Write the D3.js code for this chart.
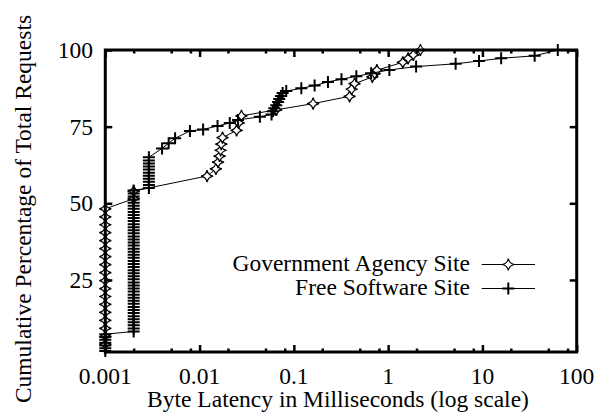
<!DOCTYPE html>
<html>
<head>
<meta charset="utf-8">
<script src="https://cdn.jsdelivr.net/npm/d3@7"></script>
<style>
  html, body { margin: 0; padding: 0; background: #fff; }
  svg { display: block; }
  text { font-family: "Liberation Serif", "Times New Roman", serif; fill: #000; }
</style>
</head>
<body>
<svg id="chart" width="603" height="415"></svg>
<script>
// ---- data (latency in ms, cumulative % of requests) ----
const seriesNames = ["Government Agency Site", "Free Software Site"];

const govSite = [
  [0.001, 4.0], [0.001, 6.6], [0.001, 9.2], [0.001, 11.8], [0.001, 14.4], [0.001, 17.0],
  [0.001, 19.6], [0.001, 22.2], [0.001, 24.8], [0.001, 27.4], [0.001, 30.0], [0.001, 32.6],
  [0.001, 35.2], [0.001, 37.8], [0.001, 40.4], [0.001, 43.0], [0.001, 45.6], [0.001, 48.2],
  [0.002, 51.5], [0.002, 54.0],
  [0.012, 58.9], [0.0149, 61.2], [0.0157, 63.4], [0.0163, 65.4], [0.0167, 67.3],
  [0.0170, 69.3], [0.0175, 71.4], [0.0247, 73.8], [0.026, 76.2], [0.0278, 78.5],
  [0.065, 80.5], [0.16, 82.5], [0.39, 84.9], [0.41, 87.2], [0.44, 89.0],
  [0.68, 91.2], [0.72, 92.3], [0.76, 93.4], [1.43, 96.0], [1.63, 97.3], [1.85, 98.4], [2.2, 100]
];

const freeSite = [
  [0.001, 1.8], [0.001, 2.7], [0.001, 3.6], [0.001, 4.5], [0.001, 5.5], [0.001, 6.4], [0.001, 7.3],
  [0.002, 8.2], [0.002, 9.2], [0.002, 10.2], [0.002, 11.2], [0.002, 12.2], [0.002, 13.2],
  [0.002, 14.2], [0.002, 15.2], [0.002, 16.2], [0.002, 17.2], [0.002, 18.2], [0.002, 19.2],
  [0.002, 20.2], [0.002, 21.2], [0.002, 22.2], [0.002, 23.2], [0.002, 24.2], [0.002, 25.2],
  [0.002, 26.2], [0.002, 27.2], [0.002, 28.2], [0.002, 29.2], [0.002, 30.2], [0.002, 31.2],
  [0.002, 32.2], [0.002, 33.2], [0.002, 34.2], [0.002, 35.2], [0.002, 36.2], [0.002, 37.2],
  [0.002, 38.2], [0.002, 39.2], [0.002, 40.2], [0.002, 41.2], [0.002, 42.2], [0.002, 43.2],
  [0.002, 44.2], [0.002, 45.2], [0.002, 46.2], [0.002, 47.2], [0.002, 48.2], [0.002, 49.2],
  [0.002, 50.2], [0.002, 51.2], [0.002, 52.2], [0.002, 53.2], [0.002, 54.2],
  [0.0029, 55.0], [0.0029, 56.0], [0.0029, 57.0], [0.0029, 58.0], [0.0029, 59.0], [0.0029, 60.0],
  [0.0029, 61.0], [0.0029, 62.0], [0.0029, 63.0], [0.0029, 64.0], [0.0029, 65.0],
  [0.0040, 67.9], [0.0047, 69.6], [0.0055, 71.2], [0.0079, 73.6], [0.0109, 74.1],
  [0.0155, 75.2], [0.0209, 76.2], [0.0256, 77.2], [0.0436, 78.2],
  [0.058, 79.0], [0.060, 80.0], [0.062, 81.0], [0.065, 82.0], [0.068, 83.0], [0.070, 84.0],
  [0.073, 85.0], [0.076, 86.0], [0.083, 86.6], [0.12, 87.5], [0.166, 88.4], [0.23, 89.6],
  [0.32, 90.5], [0.46, 91.4], [0.66, 92.4], [1.03, 93.5], [1.98, 94.6], [5.2, 95.5],
  [9.2, 96.4], [15.8, 97.3], [35.8, 98.1], [63, 100]
];

const xTicks = [0.001, 0.01, 0.1, 1, 10, 100];
const xTickLabels = ["0.001", "0.01", "0.1", "1", "10", "100"];
const xMinorTicks = [0.002, 0.005, 0.008, 0.02, 0.05, 0.08, 0.2, 0.5, 0.8, 2, 5, 8, 20, 50, 80];
const yTicks = [25, 50, 75, 100];
const yTickLabels = ["25", "50", "75", "100"];
const xTitle = "Byte Latency in Milliseconds (log scale)";
const yTitle = "Cumulative Percentage of Total Requests";

// ---- layout ----
const L = 105.3, R = 576.7, T = 50, B = 352;
const FS = 23.5;

const svg = d3.select("#chart");
svg.append("rect").attr("width", 603).attr("height", 415).attr("fill", "#fff");

const x = d3.scaleLog().domain([0.001, 100]).range([L, R]);
const y = d3.scaleLinear().domain([1.5, 100]).range([B, T]);

// ---- markers ----
const k = 1.0, r = 6;
const diamondPath = `M0,${-r}Q${k},${-k} ${r},0Q${k},${k} 0,${r}Q${-k},${k} ${-r},0Q${-k},${-k} 0,${-r}Z`;
const p = 6;
const plusPath = `M${-p},0H${p}M0,${-p}V${p}`;

const line = d3.line().x(d => x(d[0])).y(d => y(d[1]));

function drawSeries(data, kind) {
  const g = svg.append("g");
  g.append("path").datum(data).attr("d", line)
    .attr("fill", "none").attr("stroke", "#000").attr("stroke-width", 1);
  g.selectAll("path.m").data(data).join("path").attr("class", "m")
    .attr("transform", d => `translate(${x(d[0])},${y(d[1])})`)
    .attr("d", kind === "diamond" ? diamondPath : plusPath)
    .attr("fill", kind === "diamond" ? "#fff" : "none")
    .attr("stroke", "#000")
    .attr("stroke-width", kind === "diamond" ? 1.25 : 2);
}
drawSeries(govSite, "diamond");
drawSeries(freeSite, "plus");

// ---- ticks (inward, mirrored) ----
function styleAxis(g) {
  g.select(".domain").remove();
  g.selectAll(".tick line").attr("stroke", "#000").attr("stroke-width", 2.5);
  g.selectAll(".tick text").remove();
}
svg.append("g").attr("transform", `translate(0,${B})`)
  .call(d3.axisBottom(x).tickValues(xTicks).tickSize(-7).tickFormat("")).call(styleAxis);
svg.append("g").attr("transform", `translate(0,${B})`)
  .call(d3.axisBottom(x).tickValues(xMinorTicks).tickSize(-3.5).tickFormat("")).call(styleAxis);
svg.append("g").attr("transform", `translate(0,${T})`)
  .call(d3.axisTop(x).tickValues(xTicks).tickSize(-7).tickFormat("")).call(styleAxis);
svg.append("g").attr("transform", `translate(0,${T})`)
  .call(d3.axisTop(x).tickValues(xMinorTicks).tickSize(-3.5).tickFormat("")).call(styleAxis);
svg.append("g").attr("transform", `translate(${L},0)`)
  .call(d3.axisLeft(y).tickValues(yTicks).tickSize(-7).tickFormat("")).call(styleAxis);
svg.append("g").attr("transform", `translate(${R},0)`)
  .call(d3.axisRight(y).tickValues(yTicks).tickSize(-7).tickFormat("")).call(styleAxis);

// ---- frame ----
svg.append("rect")
  .attr("x", L).attr("y", T).attr("width", R - L).attr("height", B - T)
  .attr("fill", "none").attr("stroke", "#000").attr("stroke-width", 3);

// ---- tick labels ----
svg.append("g").selectAll("text").data(xTicks).join("text")
  .attr("x", d => x(d)).attr("y", 383.5)
  .attr("text-anchor", "middle").attr("font-size", FS)
  .text((d, i) => xTickLabels[i]);

svg.append("g").selectAll("text").data(yTicks).join("text")
  .attr("x", 93).attr("y", d => y(d)).attr("dy", "0.34em")
  .attr("text-anchor", "end").attr("font-size", FS)
  .text((d, i) => yTickLabels[i]);

// ---- axis titles ----
svg.append("text").attr("x", 338).attr("y", 406.5)
  .attr("text-anchor", "middle").attr("font-size", FS).text(xTitle);
svg.append("text").attr("transform", "translate(31,209) rotate(-90)")
  .attr("text-anchor", "middle").attr("font-size", FS).text(yTitle);

// ---- legend ----
const legendRows = [
  { name: seriesNames[0], kind: "diamond", baseline: 270.5 },
  { name: seriesNames[1], kind: "plus", baseline: 294.5 }
];
legendRows.forEach(row => {
  const ly = row.baseline - 6;
  svg.append("text").attr("x", 470).attr("y", row.baseline)
    .attr("text-anchor", "end").attr("font-size", FS).text(row.name);
  svg.append("line").attr("x1", 481.7).attr("x2", 535).attr("y1", ly).attr("y2", ly)
    .attr("stroke", "#000").attr("stroke-width", 1);
  svg.append("path").attr("transform", `translate(508.3,${ly})`)
    .attr("d", row.kind === "diamond" ? diamondPath : plusPath)
    .attr("fill", row.kind === "diamond" ? "#fff" : "none")
    .attr("stroke", "#000").attr("stroke-width", row.kind === "diamond" ? 1.25 : 2);
});
</script>
</body>
</html>
